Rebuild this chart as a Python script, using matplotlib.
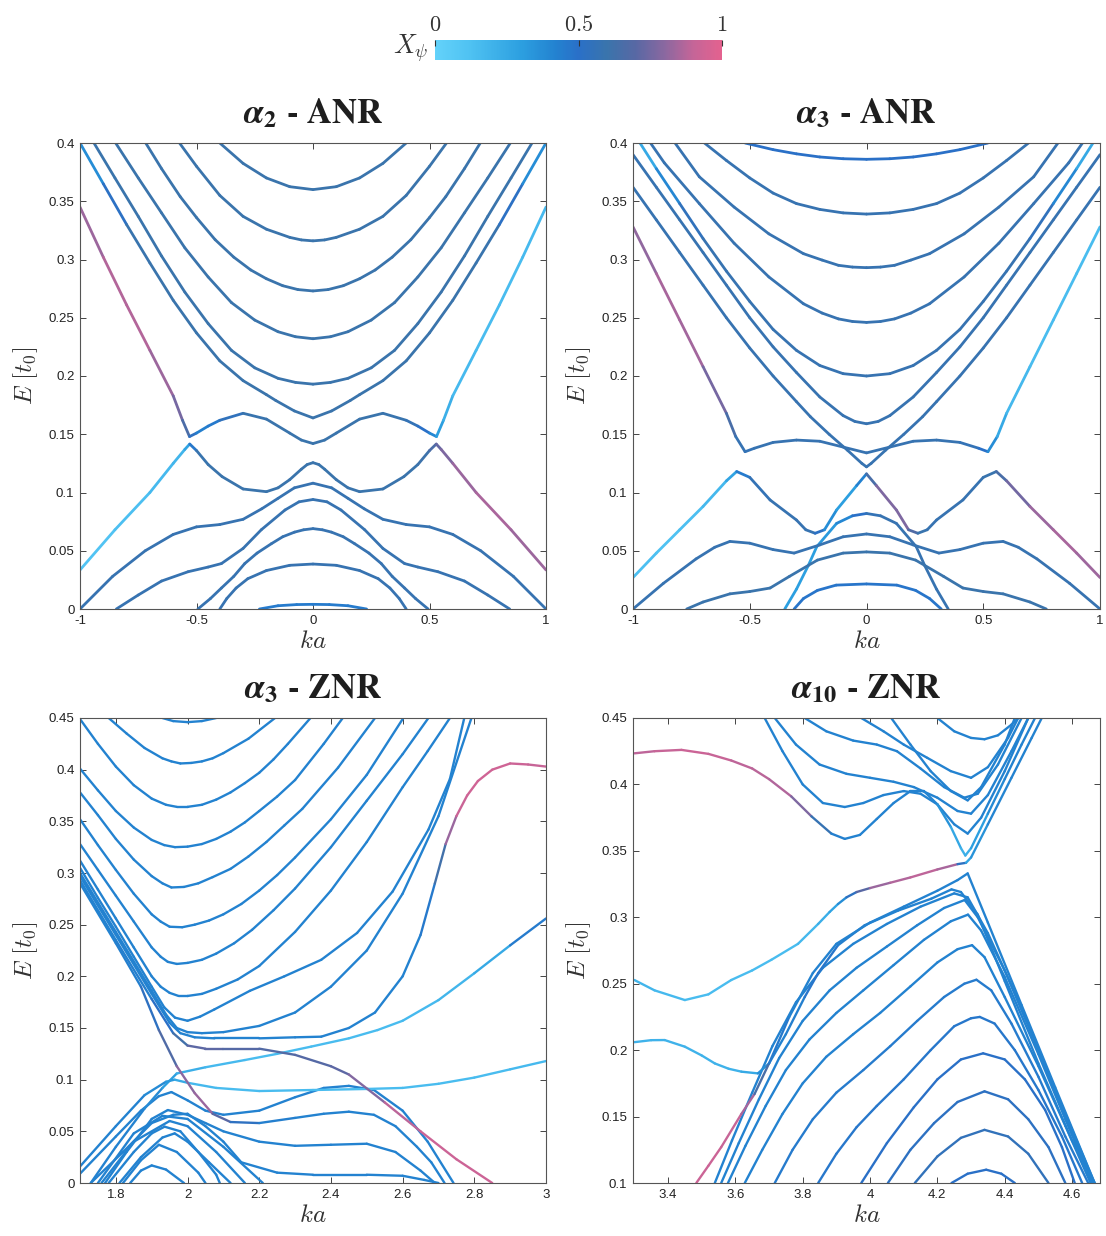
import numpy as np
import matplotlib as mpl
import matplotlib.pyplot as plt
from matplotlib.collections import LineCollection
from matplotlib.colors import LinearSegmentedColormap
from matplotlib.ticker import FormatStrFormatter

plt.rcParams['mathtext.fontset'] = 'cm'
plt.rcParams['font.family'] = ['Liberation Sans', 'DejaVu Sans']

# X_psi colour scale (0 = bulk, 1 = edge)
xpsi_cmap = LinearSegmentedColormap.from_list('xpsi', [
    (0.0, '#63d2fa'), (0.12, '#4fc2f2'), (0.3, '#2c9fe0'), (0.42, '#2382d0'),
    (0.5, '#2a70c8'), (0.6, '#3a74ac'), (0.7, '#5868a4'), (0.8, '#8a68a0'),
    (0.9, '#c46598'), (1.0, '#e4628f')])

# ---------------- alpha_2 - ANR : bands (k, E, X_psi) ----------------
a2_arc = ([-0.23, -0.15, -0.07, 0.0, 0.07, 0.15, 0.23],
          [0.0, 0.0028, 0.0038, 0.004, 0.0038, 0.0028, 0.0], 0.45)
a2_d1 = ([-0.40, -0.37, -0.33, -0.28, -0.20, -0.10, 0.0, 0.10, 0.20, 0.28, 0.33, 0.37, 0.40],
         [0, 0.009, 0.018, 0.026, 0.033, 0.0375, 0.0386, 0.0375, 0.033, 0.026, 0.018, 0.009, 0], 0.58)
a2_d2 = ([-0.494, -0.44, -0.393, -0.34, -0.293, -0.24, -0.179, -0.13, -0.079, -0.04, 0.0,
          0.04, 0.079, 0.13, 0.179, 0.24, 0.293, 0.34, 0.393, 0.44, 0.494],
         [0, 0.009, 0.018, 0.028, 0.039, 0.048, 0.056, 0.062, 0.066, 0.068, 0.069,
          0.068, 0.066, 0.062, 0.056, 0.048, 0.039, 0.028, 0.018, 0.009, 0], 0.58)
a2_d3 = ([-0.844, -0.75, -0.65, -0.536, -0.45, -0.393, -0.3, -0.222, -0.12, -0.06, 0.0,
          0.06, 0.12, 0.222, 0.3, 0.393, 0.45, 0.536, 0.65, 0.75, 0.844],
         [0, 0.012, 0.024, 0.032, 0.036, 0.039, 0.052, 0.068, 0.085, 0.092, 0.094,
          0.092, 0.085, 0.068, 0.052, 0.039, 0.036, 0.032, 0.024, 0.012, 0], 0.58)
a2_d4 = ([-1, -0.86, -0.72, -0.6, -0.5, -0.4, -0.3, -0.22, -0.15, -0.08, 0,
          0.08, 0.15, 0.22, 0.3, 0.4, 0.5, 0.6, 0.72, 0.86, 1],
         [0, 0.028, 0.05, 0.064, 0.0705, 0.0725, 0.077, 0.086, 0.095, 0.104, 0.108,
          0.104, 0.095, 0.086, 0.077, 0.0725, 0.0705, 0.064, 0.05, 0.028, 0], 0.58)
a2_v = ([-1, -0.85, -0.7, -0.6, -0.55, -0.529, -0.5, -0.45, -0.39, -0.3, -0.2, -0.15, -0.1, -0.05, -0.025, 0,
         0.025, 0.05, 0.1, 0.15, 0.2, 0.3, 0.39, 0.45, 0.5, 0.529, 0.55, 0.6, 0.7, 0.85, 1],
        [0.0335, 0.068, 0.1, 0.125, 0.137, 0.1416, 0.136, 0.124, 0.1136, 0.103, 0.1007, 0.104, 0.111, 0.12, 0.124, 0.1256,
         0.124, 0.12, 0.111, 0.104, 0.1007, 0.103, 0.1136, 0.124, 0.136, 0.1416, 0.137, 0.125, 0.1, 0.068, 0.0335],
        [0.1, 0.12, 0.15, 0.18, 0.2, 0.35, 0.58, 0.6, 0.6, 0.6, 0.6, 0.6, 0.6, 0.6, 0.6, 0.6,
         0.6, 0.6, 0.6, 0.6, 0.6, 0.6, 0.6, 0.6, 0.62, 0.7, 0.75, 0.8, 0.85, 0.86, 0.8])
a2_b = ([-1, -0.9, -0.8, -0.7, -0.6, -0.56, -0.53, -0.5, -0.45, -0.4, -0.3, -0.2, -0.1, -0.05, 0,
         0.05, 0.1, 0.2, 0.3, 0.4, 0.45, 0.5, 0.53, 0.56, 0.6, 0.7, 0.8, 0.9, 1],
        [0.345, 0.302, 0.261, 0.222, 0.183, 0.162, 0.148, 0.151, 0.157, 0.162, 0.168, 0.163, 0.151, 0.145, 0.142,
         0.145, 0.151, 0.163, 0.168, 0.162, 0.157, 0.151, 0.148, 0.162, 0.183, 0.222, 0.261, 0.302, 0.345],
        [0.8, 0.86, 0.88, 0.86, 0.8, 0.72, 0.6, 0.45, 0.42, 0.5, 0.58, 0.6, 0.6, 0.6, 0.6,
         0.6, 0.6, 0.6, 0.6, 0.58, 0.55, 0.45, 0.35, 0.25, 0.18, 0.15, 0.15, 0.15, 0.18])
a2_u6 = ([-1, -0.9, -0.8, -0.7, -0.6, -0.5, -0.4, -0.3, -0.2, -0.16, -0.08, 0,
          0.08, 0.16, 0.2, 0.3, 0.4, 0.5, 0.6, 0.7, 0.8, 0.9, 1],
         [0.4, 0.365, 0.33, 0.297, 0.265, 0.237, 0.213, 0.196, 0.184, 0.179, 0.17, 0.164,
          0.17, 0.179, 0.184, 0.196, 0.213, 0.237, 0.265, 0.297, 0.33, 0.365, 0.4],
         [0.3, 0.45, 0.58, 0.6, 0.6, 0.6, 0.6, 0.6, 0.6, 0.6, 0.6, 0.6,
          0.6, 0.6, 0.6, 0.6, 0.6, 0.6, 0.6, 0.6, 0.58, 0.45, 0.3])
a2_u5 = ([-0.94, -0.85, -0.75, -0.65, -0.55, -0.45, -0.35, -0.25, -0.15, -0.075, 0,
          0.075, 0.15, 0.25, 0.35, 0.45, 0.55, 0.65, 0.75, 0.85, 0.94],
         [0.4, 0.37, 0.337, 0.303, 0.272, 0.245, 0.222, 0.207, 0.198, 0.1945, 0.193,
          0.1945, 0.198, 0.207, 0.222, 0.245, 0.272, 0.303, 0.337, 0.37, 0.4], 0.6)
a2_u4 = ([-0.847, -0.75, -0.65, -0.55, -0.45, -0.35, -0.25, -0.15, -0.075, 0,
          0.075, 0.15, 0.25, 0.35, 0.45, 0.55, 0.65, 0.75, 0.847],
         [0.4, 0.37, 0.34, 0.31, 0.285, 0.263, 0.248, 0.238, 0.2337, 0.232,
          0.2337, 0.238, 0.248, 0.263, 0.285, 0.31, 0.34, 0.37, 0.4], 0.6)
a2_u3 = ([-0.718, -0.65, -0.57, -0.5, -0.42, -0.34, -0.267, -0.2, -0.13, -0.065, 0,
          0.065, 0.13, 0.2, 0.267, 0.34, 0.42, 0.5, 0.57, 0.65, 0.718],
         [0.4, 0.378, 0.354, 0.336, 0.317, 0.302, 0.291, 0.2835, 0.2775, 0.2742, 0.273,
          0.2742, 0.2775, 0.2835, 0.291, 0.302, 0.317, 0.336, 0.354, 0.378, 0.4], 0.6)
a2_u2 = ([-0.573, -0.5, -0.4, -0.3, -0.2, -0.1, -0.05, 0, 0.05, 0.1, 0.2, 0.3, 0.4, 0.5, 0.573],
         [0.4, 0.38, 0.355, 0.337, 0.326, 0.319, 0.3168, 0.316, 0.3168, 0.319, 0.326, 0.337, 0.355, 0.38, 0.4], 0.6)
a2_u1 = ([-0.4, -0.3, -0.2, -0.1, 0, 0.1, 0.2, 0.3, 0.4],
         [0.4, 0.3825, 0.37, 0.3625, 0.36, 0.3625, 0.37, 0.3825, 0.4], 0.6)

# ---------------- alpha_3 - ANR ----------------
a3_d1 = ([-0.31, -0.27, -0.21, -0.13, 0, 0.13, 0.21, 0.27, 0.32],
         [0, 0.009, 0.016, 0.0205, 0.0215, 0.0205, 0.016, 0.009, 0], 0.48)
a3_d2 = ([-0.35, -0.3, -0.25, -0.213, -0.128, -0.06, 0, 0.06, 0.128, 0.213, 0.25, 0.3, 0.35],
         [0, 0.017, 0.037, 0.0535, 0.0735, 0.08, 0.082, 0.08, 0.0735, 0.0535, 0.037, 0.017, 0],
         [0.3, 0.3, 0.3, 0.3, 0.35, 0.45, 0.55, 0.58, 0.58, 0.58, 0.58, 0.58, 0.58])
a3_d3 = ([-0.77, -0.7, -0.585, -0.5, -0.413, -0.33, -0.21, -0.1, 0, 0.1, 0.21, 0.33, 0.413, 0.5, 0.585, 0.7, 0.77],
         [0, 0.006, 0.013, 0.015, 0.018, 0.028, 0.042, 0.048, 0.049, 0.048, 0.042, 0.028, 0.018, 0.015, 0.013, 0.006, 0],
         0.6)
a3_d4 = ([-1, -0.87, -0.73, -0.65, -0.585, -0.5, -0.4, -0.31, -0.2, -0.1, 0,
          0.1, 0.2, 0.31, 0.4, 0.5, 0.585, 0.65, 0.73, 0.87, 1],
         [0, 0.022, 0.043, 0.053, 0.058, 0.0565, 0.051, 0.048, 0.055, 0.062, 0.0644,
          0.062, 0.055, 0.048, 0.051, 0.0565, 0.058, 0.053, 0.043, 0.022, 0], 0.58)
a3_v = ([-1, -0.9, -0.8, -0.7, -0.6, -0.556, -0.5, -0.413, -0.3, -0.26, -0.22, -0.18, -0.128, -0.042, 0,
         0.042, 0.128, 0.18, 0.22, 0.26, 0.3, 0.413, 0.5, 0.556, 0.6, 0.7, 0.8, 0.9, 1],
        [0.027, 0.048, 0.068, 0.088, 0.11, 0.118, 0.113, 0.0936, 0.0764, 0.068, 0.065, 0.068, 0.085, 0.106, 0.116,
         0.106, 0.085, 0.068, 0.065, 0.068, 0.0764, 0.0936, 0.113, 0.118, 0.11, 0.088, 0.068, 0.048, 0.027],
        [0.15, 0.12, 0.12, 0.15, 0.2, 0.35, 0.55, 0.58, 0.58, 0.58, 0.58, 0.45, 0.3, 0.3, 0.55,
         0.75, 0.8, 0.75, 0.6, 0.58, 0.58, 0.58, 0.58, 0.6, 0.7, 0.8, 0.85, 0.85, 0.82])
a3_b = ([-1, -0.9, -0.8, -0.7, -0.6, -0.56, -0.52, -0.48, -0.4, -0.3, -0.2, -0.1, 0,
         0.1, 0.2, 0.3, 0.4, 0.48, 0.52, 0.56, 0.6, 0.7, 0.8, 0.9, 1],
        [0.328, 0.288, 0.248, 0.208, 0.168, 0.148, 0.135, 0.138, 0.143, 0.145, 0.144, 0.139, 0.134,
         0.139, 0.144, 0.145, 0.143, 0.138, 0.135, 0.148, 0.168, 0.208, 0.248, 0.288, 0.328],
        [0.78, 0.84, 0.86, 0.82, 0.7, 0.6, 0.55, 0.58, 0.58, 0.58, 0.58, 0.58, 0.58,
         0.58, 0.58, 0.58, 0.58, 0.55, 0.45, 0.3, 0.2, 0.15, 0.15, 0.15, 0.15])
a3_vv = ([-1, -0.9, -0.8, -0.7, -0.6, -0.5, -0.4, -0.3, -0.24, -0.16, -0.08, -0.02, 0,
          0.02, 0.08, 0.16, 0.24, 0.3, 0.4, 0.5, 0.6, 0.7, 0.8, 0.9, 1],
         [0.362, 0.334, 0.306, 0.278, 0.25, 0.224, 0.2, 0.178, 0.165, 0.15, 0.136, 0.125, 0.122,
          0.125, 0.136, 0.15, 0.165, 0.178, 0.2, 0.224, 0.25, 0.278, 0.306, 0.334, 0.362], 0.58)
a3_u = ([-1, -0.9, -0.8, -0.7, -0.6, -0.5, -0.4, -0.3, -0.2, -0.1, -0.05, 0,
         0.05, 0.1, 0.2, 0.3, 0.4, 0.5, 0.6, 0.7, 0.8, 0.9, 1],
        [0.39, 0.362, 0.334, 0.306, 0.278, 0.25, 0.225, 0.203, 0.182, 0.166, 0.161, 0.159,
         0.161, 0.166, 0.182, 0.203, 0.225, 0.25, 0.278, 0.306, 0.334, 0.362, 0.39], 0.58)
a3_u5 = ([-0.97, -0.9, -0.8, -0.7, -0.6, -0.5, -0.4, -0.3, -0.2, -0.1, 0,
          0.1, 0.2, 0.3, 0.4, 0.5, 0.6, 0.7, 0.8, 0.9, 0.97],
         [0.4, 0.378, 0.348, 0.318, 0.29, 0.264, 0.24, 0.222, 0.209, 0.202, 0.2,
          0.202, 0.209, 0.222, 0.24, 0.264, 0.29, 0.318, 0.348, 0.378, 0.4],
         [0.2, 0.3, 0.5, 0.58, 0.58, 0.58, 0.58, 0.58, 0.58, 0.58, 0.58,
          0.58, 0.58, 0.58, 0.58, 0.58, 0.58, 0.58, 0.5, 0.3, 0.2])
a3_u4 = ([-0.925, -0.866, -0.716, -0.567, -0.418, -0.27, -0.19, -0.12, -0.06, 0,
          0.06, 0.12, 0.19, 0.27, 0.418, 0.567, 0.716, 0.866, 0.925],
         [0.4, 0.383, 0.348, 0.314, 0.285, 0.262, 0.254, 0.249, 0.2468, 0.246,
          0.2468, 0.249, 0.254, 0.262, 0.285, 0.314, 0.348, 0.383, 0.4], 0.58)
a3_u3 = ([-0.82, -0.716, -0.567, -0.418, -0.27, -0.19, -0.12, -0.06, 0, 0.06, 0.12, 0.19, 0.27, 0.418, 0.567, 0.716, 0.82],
         [0.4, 0.371, 0.345, 0.322, 0.305, 0.2995, 0.295, 0.2935, 0.293, 0.2935, 0.295, 0.2995, 0.305, 0.322, 0.345, 0.371, 0.4],
         0.58)
a3_u2 = ([-0.694, -0.6, -0.5, -0.4, -0.3, -0.2, -0.1, 0, 0.1, 0.2, 0.3, 0.4, 0.5, 0.6, 0.694],
         [0.4, 0.385, 0.37, 0.357, 0.348, 0.343, 0.34, 0.339, 0.34, 0.343, 0.348, 0.357, 0.37, 0.385, 0.4], 0.58)
a3_u1 = ([-0.52, -0.4, -0.3, -0.2, -0.1, 0, 0.1, 0.2, 0.3, 0.4, 0.52],
         [0.4, 0.3943, 0.3907, 0.388, 0.3865, 0.386, 0.3865, 0.388, 0.3907, 0.3943, 0.4], 0.5)

# ---------------- alpha_3 - ZNR ----------------
z3_p0 = ([1.93, 1.96, 2.0, 2.04, 2.08], [0.45, 0.447, 0.446, 0.447, 0.45], 0.42)
z3_p1 = ([1.78, 1.83, 1.88, 1.93, 1.955, 1.98, 2.01, 2.04, 2.07, 2.1, 2.17, 2.244],
         [0.45, 0.435, 0.421, 0.411, 0.408, 0.406, 0.4065, 0.408, 0.411, 0.416, 0.43, 0.45], 0.42)
z3_p2 = ([1.7, 1.75, 1.8, 1.85, 1.9, 1.94, 1.97, 2.0, 2.04, 2.08, 2.12, 2.16, 2.2, 2.24, 2.28, 2.343],
         [0.449, 0.425, 0.403, 0.385, 0.372, 0.366, 0.364, 0.364, 0.366, 0.371, 0.378, 0.387, 0.397, 0.41, 0.425, 0.45],
         0.42)
z3_p3 = ([1.7, 1.75, 1.8, 1.85, 1.9, 1.935, 1.965, 2.0, 2.04, 2.08, 2.12, 2.16, 2.2, 2.25, 2.3, 2.38, 2.433],
         [0.401, 0.38, 0.36, 0.344, 0.332, 0.327, 0.325, 0.3255, 0.328, 0.333, 0.34, 0.349, 0.36, 0.374, 0.39, 0.425, 0.45],
         0.42)
z3_p4 = ([1.7, 1.75, 1.8, 1.85, 1.9, 1.93, 1.955, 1.99, 2.03, 2.07, 2.12, 2.17, 2.22, 2.27, 2.32, 2.42, 2.523],
         [0.378, 0.356, 0.333, 0.313, 0.297, 0.29, 0.286, 0.2865, 0.29, 0.296, 0.304, 0.316, 0.33, 0.346, 0.362, 0.402, 0.45],
         0.42)
z3_p5 = ([1.7, 1.75, 1.8, 1.85, 1.9, 1.925, 1.95, 1.985, 2.02, 2.06, 2.1, 2.15, 2.2, 2.25, 2.3, 2.4, 2.5, 2.602],
         [0.352, 0.327, 0.303, 0.28, 0.26, 0.253, 0.248, 0.2475, 0.25, 0.254, 0.26, 0.27, 0.283, 0.298, 0.315, 0.352, 0.395, 0.45],
         0.42)
z3_p6 = ([1.7, 1.75, 1.8, 1.85, 1.9, 1.925, 1.945, 1.97, 2.0, 2.04, 2.08, 2.13, 2.18, 2.24, 2.3, 2.4, 2.5, 2.6, 2.672],
         [0.328, 0.303, 0.278, 0.253, 0.228, 0.219, 0.214, 0.212, 0.213, 0.216, 0.222, 0.232, 0.245, 0.264, 0.285, 0.325,
          0.37, 0.415, 0.45], 0.42)
z3_p7 = ([1.7, 1.75, 1.8, 1.85, 1.9, 1.925, 1.95, 1.975, 2.0, 2.04, 2.08, 2.14, 2.2, 2.3, 2.4, 2.5, 2.6, 2.67, 2.732],
         [0.312, 0.284, 0.256, 0.228, 0.2, 0.19, 0.184, 0.181, 0.181, 0.183, 0.188, 0.197, 0.21, 0.243, 0.283, 0.33, 0.383,
          0.418, 0.45], 0.42)
z3_p8 = ([1.7, 1.75, 1.8, 1.85, 1.9, 1.935, 1.965, 2.0, 2.035, 2.075, 2.174, 2.27, 2.373, 2.473, 2.572, 2.672, 2.732, 2.772],
         [0.305, 0.276, 0.248, 0.219, 0.19, 0.17, 0.16, 0.157, 0.161, 0.168, 0.186, 0.2, 0.216, 0.242, 0.282, 0.342, 0.391, 0.45],
         0.42)
z3_p9 = ([1.7, 1.8, 1.9, 1.94, 1.97, 2.0, 2.04, 2.1, 2.2, 2.3, 2.4, 2.5, 2.6, 2.7, 2.792],
         [0.3, 0.243, 0.186, 0.163, 0.15, 0.146, 0.145, 0.146, 0.152, 0.165, 0.19, 0.225, 0.28, 0.355, 0.45], 0.42)
z3_p10 = ([1.7, 1.8, 1.9, 1.95, 1.98, 2.02, 2.075, 2.2, 2.3, 2.373, 2.45, 2.523, 2.6, 2.65, 2.69, 2.72, 2.75, 2.78, 2.81,
           2.85, 2.9, 2.95, 3.0],
          [0.297, 0.24, 0.183, 0.155, 0.145, 0.141, 0.14, 0.14, 0.141, 0.1416, 0.15, 0.165, 0.2, 0.24, 0.29, 0.328, 0.355,
           0.375, 0.389, 0.4, 0.406, 0.405, 0.403],
          [0.42, 0.42, 0.42, 0.42, 0.42, 0.42, 0.42, 0.42, 0.42, 0.42, 0.42, 0.42, 0.42, 0.42, 0.5, 0.75, 0.9, 0.93,
           0.93, 0.93, 0.93, 0.92, 0.9])
z3_pu = ([1.7, 1.8, 1.9, 1.96, 2.0, 2.05, 2.1, 2.2, 2.3, 2.4, 2.45, 2.55, 2.65, 2.75, 2.85],
         [0.293, 0.235, 0.178, 0.145, 0.133, 0.13, 0.13, 0.13, 0.124, 0.113, 0.105, 0.078, 0.05, 0.023, 0],
         [0.42, 0.42, 0.45, 0.55, 0.7, 0.72, 0.7, 0.68, 0.68, 0.7, 0.72, 0.85, 0.92, 0.93, 0.92])
z3_st = ([1.7, 1.8, 1.87, 1.92, 1.97, 2.02, 2.07, 2.12, 2.2, 2.3, 2.38, 2.45, 2.52, 2.58, 2.64, 2.68, 2.717],
         [0.29, 0.232, 0.19, 0.148, 0.113, 0.087, 0.067, 0.059, 0.058, 0.063, 0.067, 0.069, 0.066, 0.055, 0.035, 0.02, 0],
         [0.42, 0.42, 0.45, 0.6, 0.75, 0.85, 0.8, 0.6, 0.45, 0.42, 0.42, 0.42, 0.42, 0.42, 0.42, 0.42, 0.42])
z3_c1 = ([1.73, 1.8, 1.88, 1.93, 1.97, 2.05, 2.16, 2.25, 2.345, 2.45, 2.53, 2.6, 2.7, 2.8, 2.9, 3.0],
         [0.0, 0.035, 0.072, 0.092, 0.106, 0.112, 0.119, 0.125, 0.132, 0.14, 0.148, 0.157, 0.177, 0.203, 0.23, 0.256],
         [0.42, 0.42, 0.42, 0.35, 0.25, 0.18, 0.15, 0.15, 0.15, 0.15, 0.15, 0.15, 0.18, 0.2, 0.3, 0.6])
z3_c2 = ([1.7, 1.8, 1.88, 1.94, 1.964, 2.0, 2.08, 2.2, 2.35, 2.5, 2.6, 2.7, 2.8, 2.9, 3.0],
         [0.016, 0.055, 0.085, 0.098, 0.1, 0.097, 0.092, 0.089, 0.09, 0.091, 0.092, 0.096, 0.102, 0.11, 0.118],
         [0.42, 0.42, 0.42, 0.35, 0.3, 0.2, 0.15, 0.15, 0.15, 0.15, 0.15, 0.15, 0.15, 0.15, 0.18])
z3_q2 = ([1.7, 1.8, 1.87, 1.92, 1.955, 2.0, 2.05, 2.1, 2.2, 2.3, 2.38, 2.45, 2.52, 2.6, 2.67, 2.742],
         [0.009, 0.045, 0.07, 0.084, 0.088, 0.08, 0.07, 0.066, 0.07, 0.083, 0.092, 0.094, 0.09, 0.07, 0.04, 0], 0.42)
z3_q3 = ([1.77, 1.83, 1.9, 1.945, 2.0, 2.05, 2.1, 2.2, 2.3, 2.4, 2.5, 2.58, 2.65, 2.69],
         [0, 0.03, 0.062, 0.0706, 0.066, 0.058, 0.05, 0.04, 0.036, 0.037, 0.038, 0.03, 0.012, 0], 0.42)
z3_q4 = ([1.73, 1.82, 1.9, 1.96, 2.0, 2.05, 2.1, 2.15, 2.25, 2.35, 2.5, 2.6, 2.66, 2.7],
         [0, 0.03, 0.058, 0.066, 0.067, 0.055, 0.04, 0.02, 0.01, 0.008, 0.008, 0.007, 0.003, 0], 0.42)
z3_q5 = ([1.78, 1.85, 1.9, 1.936, 1.98, 2.03, 2.08, 2.09],
         [0, 0.03, 0.048, 0.0545, 0.05, 0.03, 0.008, 0], 0.42)
z3_q6 = ([1.81, 1.87, 1.93, 1.964, 2.0, 2.06, 2.12], [0, 0.025, 0.044, 0.048, 0.04, 0.02, 0], 0.42)
z3_q7 = ([1.82, 1.87, 1.92, 1.97, 2.03, 2.05], [0, 0.022, 0.037, 0.03, 0.01, 0], 0.42)
z3_q8 = ([1.84, 1.87, 1.9, 1.94, 1.99], [0, 0.012, 0.017, 0.013, 0], 0.42)
z3_q9 = ([1.76, 1.85, 1.95, 2.0, 2.08, 2.16], [0, 0.04, 0.06, 0.055, 0.03, 0], 0.42)
z3_q10 = ([1.75, 1.85, 1.93, 2.0, 2.1, 2.21], [0, 0.048, 0.065, 0.062, 0.035, 0], 0.42)

# ---------------- alpha_10 - ZNR ----------------
z10_pk = ([3.3, 3.36, 3.44, 3.52, 3.588, 3.65, 3.7, 3.766, 3.826, 3.885, 3.925, 3.97, 4.02, 4.07, 4.12,
           4.16, 4.2, 4.24, 4.27, 4.283, 4.3, 4.35, 4.4, 4.45, 4.49],
          [0.4234, 0.425, 0.426, 0.423, 0.418, 0.412, 0.404, 0.391, 0.376, 0.363, 0.359, 0.362, 0.374, 0.386, 0.395,
           0.395, 0.385, 0.368, 0.352, 0.3465, 0.352, 0.378, 0.404, 0.43, 0.45],
          [0.88, 0.9, 0.92, 0.92, 0.9, 0.88, 0.88, 0.85, 0.7, 0.45, 0.42, 0.42, 0.42, 0.42, 0.42,
           0.42, 0.4, 0.3, 0.22, 0.2, 0.25, 0.35, 0.42, 0.42, 0.42])
z10_ub = ([3.687, 3.74, 3.8, 3.86, 3.925, 3.98, 4.04, 4.1, 4.15, 4.2, 4.25, 4.29, 4.33, 4.4, 4.47],
          [0.45, 0.425, 0.4, 0.386, 0.383, 0.386, 0.392, 0.395, 0.393, 0.385, 0.37, 0.363, 0.375, 0.41, 0.45], 0.42)
z10_uc = ([3.717, 3.78, 3.85, 3.93, 4.0, 4.07, 4.13, 4.2, 4.26, 4.3, 4.35, 4.42, 4.47],
          [0.45, 0.43, 0.415, 0.408, 0.405, 0.402, 0.398, 0.39, 0.38, 0.378, 0.392, 0.425, 0.45], 0.42)
z10_ud = ([3.806, 3.87, 3.95, 4.02, 4.08, 4.15, 4.22, 4.28, 4.32, 4.38, 4.45],
          [0.45, 0.44, 0.433, 0.43, 0.425, 0.412, 0.398, 0.39, 0.393, 0.415, 0.45], 0.42)
z10_ue = ([3.974, 4.04, 4.1, 4.17, 4.24, 4.3, 4.35, 4.41, 4.44],
          [0.45, 0.44, 0.43, 0.42, 0.41, 0.405, 0.413, 0.435, 0.45], 0.42)
z10_uf = ([4.2, 4.25, 4.3, 4.34, 4.38, 4.42, 4.44], [0.45, 0.44, 0.435, 0.434, 0.437, 0.445, 0.45], 0.42)
z10_ug = ([4.063, 4.12, 4.18, 4.24, 4.29, 4.33, 4.4, 4.43],
          [0.45, 0.43, 0.41, 0.395, 0.388, 0.398, 0.43, 0.45], 0.42)
z10_c1 = ([3.3, 3.36, 3.45, 3.52, 3.588, 3.65, 3.707, 3.786, 3.846, 3.88, 3.905, 3.93, 3.96, 4.0, 4.06, 4.12, 4.2,
           4.26, 4.285, 4.3, 4.35, 4.42, 4.48, 4.51],
          [0.2528, 0.245, 0.2377, 0.242, 0.2528, 0.26, 0.268, 0.28, 0.295, 0.304, 0.31, 0.315, 0.319, 0.322, 0.326, 0.33,
           0.336, 0.34, 0.341, 0.345, 0.37, 0.405, 0.435, 0.45],
          [0.2, 0.18, 0.15, 0.15, 0.15, 0.15, 0.15, 0.15, 0.2, 0.25, 0.3, 0.45, 0.6, 0.8, 0.85, 0.88, 0.9,
           0.8, 0.25, 0.3, 0.4, 0.42, 0.42, 0.42])
z10_c2 = ([3.3, 3.35, 3.39, 3.45, 3.5, 3.539, 3.58, 3.618, 3.667, 3.7, 3.75, 3.806, 3.846, 3.905, 3.984,
           4.083, 4.182, 4.242, 4.27, 4.32, 4.4, 4.5, 4.6, 4.667],
          [0.206, 0.2075, 0.2076, 0.2026, 0.196, 0.19, 0.186, 0.1838, 0.1825, 0.19, 0.212, 0.24, 0.258, 0.279, 0.294,
           0.305, 0.314, 0.321, 0.319, 0.302, 0.252, 0.19, 0.132, 0.1],
          [0.2, 0.2, 0.2, 0.2, 0.2, 0.2, 0.2, 0.2, 0.3, 0.42, 0.42, 0.45, 0.5, 0.45, 0.42,
           0.42, 0.42, 0.42, 0.42, 0.42, 0.42, 0.42, 0.42, 0.42])
z10_f1 = ([3.484, 3.52, 3.558, 3.618, 3.657, 3.7, 3.76, 3.83, 3.9, 4.0, 4.1, 4.2, 4.26, 4.29, 4.35, 4.45, 4.55, 4.667],
          [0.1, 0.113, 0.127, 0.152, 0.167, 0.19, 0.225, 0.258, 0.28, 0.296, 0.308, 0.32, 0.328, 0.333, 0.296, 0.234, 0.172, 0.1],
          [0.92, 0.92, 0.92, 0.9, 0.8, 0.5, 0.42, 0.42, 0.42, 0.42, 0.42, 0.42, 0.42, 0.42, 0.42, 0.42, 0.42, 0.42])
z10_f3 = ([3.539, 3.59, 3.65, 3.71, 3.78, 3.86, 3.95, 4.05, 4.15, 4.25, 4.29, 4.35, 4.45, 4.55, 4.667],
          [0.1, 0.132, 0.168, 0.203, 0.236, 0.262, 0.28, 0.295, 0.308, 0.318, 0.315, 0.288, 0.232, 0.17, 0.1], 0.42)
z10_f4 = ([3.558, 3.61, 3.67, 3.73, 3.8, 3.88, 3.96, 4.05, 4.14, 4.22, 4.281, 4.32, 4.4, 4.5, 4.58, 4.663],
          [0.1, 0.13, 0.163, 0.194, 0.222, 0.245, 0.262, 0.278, 0.294, 0.307, 0.313, 0.3, 0.26, 0.2, 0.15, 0.1], 0.42)
z10_f5 = ([3.578, 3.63, 3.69, 3.75, 3.82, 3.9, 3.98, 4.07, 4.16, 4.24, 4.291, 4.33, 4.4, 4.5, 4.58, 4.66],
          [0.1, 0.128, 0.158, 0.185, 0.208, 0.228, 0.245, 0.264, 0.283, 0.297, 0.302, 0.29, 0.255, 0.197, 0.148, 0.1], 0.42)
z10_f6 = ([3.628, 3.68, 3.74, 3.8, 3.87, 3.95, 4.03, 4.12, 4.2, 4.26, 4.303, 4.34, 4.4, 4.5, 4.58, 4.655],
          [0.1, 0.125, 0.152, 0.175, 0.195, 0.212, 0.228, 0.248, 0.266, 0.276, 0.279, 0.27, 0.24, 0.188, 0.143, 0.1], 0.42)
z10_f7 = ([3.717, 3.77, 3.83, 3.9, 3.98, 4.06, 4.14, 4.22, 4.28, 4.316, 4.36, 4.42, 4.5, 4.58, 4.648],
          [0.1, 0.125, 0.148, 0.168, 0.185, 0.203, 0.222, 0.24, 0.25, 0.253, 0.245, 0.22, 0.18, 0.135, 0.1], 0.45)
z10_f8 = ([3.846, 3.9, 3.96, 4.02, 4.1, 4.18, 4.25, 4.3, 4.326, 4.37, 4.43, 4.5, 4.57, 4.63],
          [0.1, 0.122, 0.142, 0.158, 0.178, 0.2, 0.218, 0.224, 0.225, 0.22, 0.2, 0.17, 0.135, 0.1], 0.47)
z10_f9 = ([3.974, 4.05, 4.13, 4.2, 4.27, 4.336, 4.4, 4.46, 4.52, 4.57, 4.608],
          [0.1, 0.13, 0.157, 0.178, 0.193, 0.1976, 0.193, 0.178, 0.155, 0.127, 0.1], 0.5)
z10_f10 = ([4.053, 4.12, 4.19, 4.26, 4.34, 4.41, 4.47, 4.53, 4.58],
           [0.1, 0.125, 0.145, 0.161, 0.169, 0.163, 0.148, 0.127, 0.1], 0.52)
z10_f11 = ([4.133, 4.2, 4.27, 4.34, 4.41, 4.47, 4.53], [0.1, 0.12, 0.134, 0.14, 0.135, 0.122, 0.1], 0.55)
z10_f12 = ([4.242, 4.29, 4.345, 4.39, 4.43], [0.1, 0.107, 0.11, 0.107, 0.1], 0.5)

anr2_bands = [a2_arc, a2_d1, a2_d2, a2_d3, a2_d4, a2_u1, a2_u2, a2_u3, a2_u4, a2_u5, a2_u6, a2_v, a2_b]
anr3_bands = [a3_d1, a3_d2, a3_d3, a3_d4, a3_u1, a3_u2, a3_u3, a3_u4, a3_u5, a3_u, a3_vv, a3_v, a3_b]
znr3_bands = [z3_p0, z3_p1, z3_p2, z3_p3, z3_p4, z3_p5, z3_p6, z3_p7, z3_p8, z3_p9,
              z3_q2, z3_q3, z3_q4, z3_q5, z3_q6, z3_q7, z3_q8, z3_q9, z3_q10,
              z3_c1, z3_c2, z3_st, z3_pu, z3_p10]
znr10_bands = [z10_ub, z10_uc, z10_ud, z10_ue, z10_uf, z10_ug, z10_f12, z10_f11, z10_f10, z10_f9, z10_f8,
               z10_f7, z10_f6, z10_f5, z10_f4, z10_f3, z10_c2, z10_f1, z10_c1, z10_pk]


def draw_band(ax, band, lw=2.0):
    k, e, x = band
    pts = np.column_stack([k, e])
    segs = np.stack([pts[:-1], pts[1:]], axis=1)
    if np.isscalar(x):
        cols = [xpsi_cmap(x)] * len(segs)
    else:
        x = np.asarray(x, dtype=float)
        cols = xpsi_cmap(0.5 * (x[:-1] + x[1:]))
    lc = LineCollection(segs, colors=cols, linewidths=lw, capstyle='round', joinstyle='round')
    ax.add_collection(lc)


def style_axes(ax, xlim, ylim, xticks, yticks, title):
    ax.set_xlim(xlim)
    ax.set_ylim(ylim)
    ax.set_xticks(xticks)
    ax.set_yticks(yticks)
    ax.xaxis.set_major_formatter(FormatStrFormatter('%g'))
    ax.yaxis.set_major_formatter(FormatStrFormatter('%g'))
    ax.tick_params(direction='in', top=True, right=True, labelsize=9.5, length=4,
                   width=0.7, colors='#444444', labelcolor='#222222', pad=4)
    for s in ax.spines.values():
        s.set_linewidth(0.8)
        s.set_color('#555555')
    ax.set_xlabel(r'$ka$', fontsize=18, labelpad=2, color='#333333')
    ax.set_ylabel(r'$E\ [t_0]$', fontsize=18, labelpad=6, color='#333333')
    ax.set_title(title, fontsize=25, fontweight='bold', fontfamily='STIXGeneral',
                 math_fontfamily='stix', pad=14, color='#1e1e1e')


fig = plt.figure(figsize=(11.06, 12.36), dpi=100)
W, H = 1106.0, 1236.0
ax1 = fig.add_axes([80 / W, 1 - 609 / H, 466 / W, 466 / H])
ax2 = fig.add_axes([633 / W, 1 - 609 / H, 467 / W, 466 / H])
ax3 = fig.add_axes([80 / W, 1 - 1183 / H, 466 / W, 465 / H])
ax4 = fig.add_axes([633 / W, 1 - 1183 / H, 467 / W, 465 / H])

for b in anr2_bands:
    draw_band(ax1, b)
for b in anr3_bands:
    draw_band(ax2, b)
for b in znr3_bands:
    draw_band(ax3, b, lw=1.7)
for b in znr10_bands:
    draw_band(ax4, b, lw=1.7)

anr_yt = [0, 0.05, 0.1, 0.15, 0.2, 0.25, 0.3, 0.35, 0.4]
style_axes(ax1, (-1, 1), (0, 0.4), [-1, -0.5, 0, 0.5, 1], anr_yt, r'$\mathbfit{\alpha}_\mathbf{2}$ - ANR')
style_axes(ax2, (-1, 1), (0, 0.4), [-1, -0.5, 0, 0.5, 1], anr_yt, r'$\mathbfit{\alpha}_\mathbf{3}$ - ANR')
style_axes(ax3, (1.7, 3.0), (0, 0.45), [1.8, 2, 2.2, 2.4, 2.6, 2.8, 3],
           [0, 0.05, 0.1, 0.15, 0.2, 0.25, 0.3, 0.35, 0.4, 0.45], r'$\mathbfit{\alpha}_\mathbf{3}$ - ZNR')
style_axes(ax4, (3.296, 4.683), (0.1, 0.45), [3.4, 3.6, 3.8, 4, 4.2, 4.4, 4.6],
           [0.1, 0.15, 0.2, 0.25, 0.3, 0.35, 0.4, 0.45], r'$\mathbfit{\alpha}_\mathbf{10}$ - ZNR')

# colour bar on top
cax = fig.add_axes([435 / W, 1 - 60 / H, 287 / W, 20 / H])
sm = mpl.cm.ScalarMappable(norm=mpl.colors.Normalize(0, 1), cmap=xpsi_cmap)
cb = fig.colorbar(sm, cax=cax, orientation='horizontal', ticks=[0, 0.5, 1])
cb.outline.set_visible(False)
cax.xaxis.set_ticks_position('top')
cax.set_xticklabels([r'$0$', r'$0.5$', r'$1$'])
cax.tick_params(direction='in', length=4, width=0.8, labelsize=16, pad=3, colors='#333333')
fig.text(428 / W, 1 - 48 / H, r'$X_\psi$', fontsize=19, ha='right', va='center', color='#333333')

fig.savefig('out.png', dpi=100)
